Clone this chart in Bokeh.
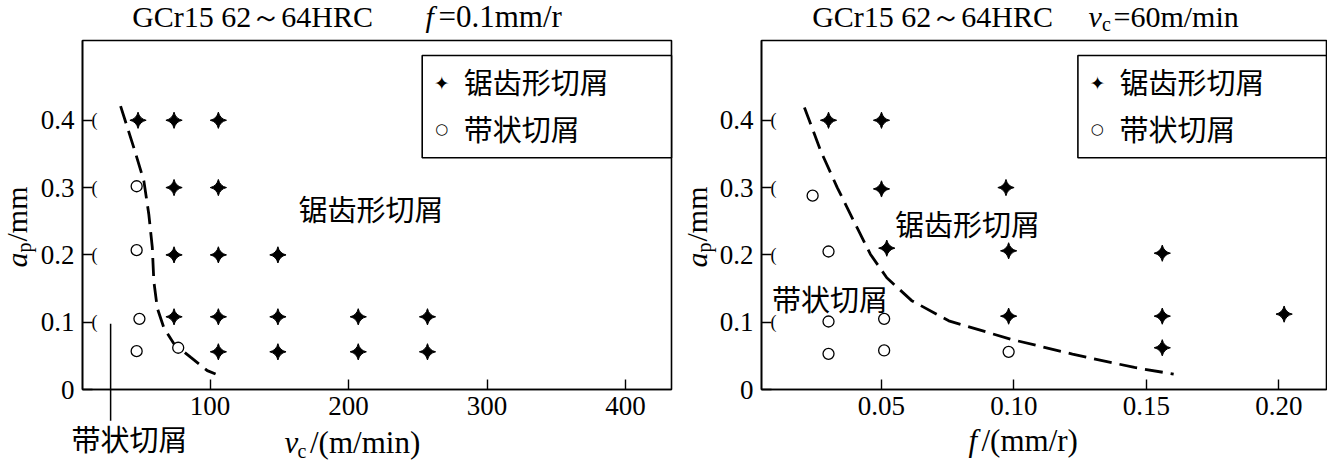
import numpy as np
from bokeh.plotting import figure
from bokeh.models import (Range1d, FixedTicker, Label, BoxAnnotation, PrintfTickFormatter)
from bokeh.layouts import row
from bokeh.embed import file_html
from bokeh.resources import INLINE
from bokeh.core.properties import value

# ---------------- data ----------------
# left panel: a_p vs v_c  (f = 0.1 mm/r)
left_saw_v = [48, 74, 106, 74, 106, 74, 106, 149, 74, 106, 149, 207, 257, 106, 149, 207, 257]
left_saw_ap = [0.40, 0.40, 0.40, 0.30, 0.30, 0.20, 0.20, 0.20, 0.108, 0.108, 0.108, 0.108, 0.108,
               0.056, 0.056, 0.056, 0.056]
left_band_v = [47, 47, 49, 47, 77]
left_band_ap = [0.302, 0.207, 0.105, 0.057, 0.062]
left_curve_v = [35.4, 45.0, 52.2, 55.8, 58.3, 59.4, 61.9, 66.6, 73.9, 85.9, 98.0, 104.0]
left_curve_ap = [0.421, 0.359, 0.310, 0.260, 0.211, 0.161, 0.121, 0.092, 0.068, 0.048, 0.028, 0.023]
left_pointer_v = [28.2, 28.2]
left_pointer_ap = [0.0975, -0.0465]

# right panel: a_p vs f  (v_c = 60 m/min)
right_saw_f = [0.030, 0.050, 0.050, 0.052, 0.097, 0.098, 0.098, 0.156, 0.156, 0.156, 0.202]
right_saw_ap = [0.400, 0.400, 0.298, 0.210, 0.300, 0.206, 0.109, 0.2025, 0.109, 0.062, 0.112]
right_band_f = [0.024, 0.030, 0.030, 0.030, 0.051, 0.051, 0.098]
right_band_ap = [0.288, 0.205, 0.101, 0.053, 0.105, 0.058, 0.056]
right_curve_f = [0.0209, 0.0271, 0.0333, 0.0395, 0.0458, 0.0520, 0.0614, 0.0754, 0.0987, 0.1221, 0.1455, 0.1603]
right_curve_ap = [0.419, 0.354, 0.300, 0.2505, 0.201, 0.166, 0.132, 0.102, 0.0748, 0.0526, 0.0327, 0.0229]

y_ticks = [0, 0.1, 0.2, 0.3, 0.4]
left_x_ticks = [100, 200, 300, 400]
right_x_ticks = [0.05, 0.10, 0.15, 0.20]

# axis extents of the boxed plot areas
left_x_bounds = (7.9, 433.2)
right_x_bounds = (0.0047, 0.218)
y_bounds = (0.0, 0.5185)

label_saw = "锯齿形切屑"
label_band = "带状切屑"

SERIF = "Liberation Serif"
CJK = "Noto Sans CJK SC"
SYM = "DejaVu Sans"

H = 463
BOX_TOP = 40       # pixel rows of the boxed area
BOX_BOTTOM = 389


def make_fig(width, box_left, box_right, xb, xticks, xfmt):
    # the frame covers the whole canvas; axes are pinned at the box edges
    kx = (box_right - box_left) / (xb[1] - xb[0])
    ky = (BOX_BOTTOM - BOX_TOP) / (y_bounds[1] - y_bounds[0])
    xr = Range1d(xb[0] - box_left / kx, xb[0] + (width - box_left) / kx)
    yr = Range1d(y_bounds[0] - (H - BOX_BOTTOM) / ky, y_bounds[0] + BOX_BOTTOM / ky)
    p = figure(width=width, height=H, min_border=0, x_range=xr, y_range=yr,
               toolbar_location=None, output_backend="svg", title=None)
    p.background_fill_color = "white"
    p.border_fill_color = "white"
    p.outline_line_color = None
    p.xgrid.grid_line_color = None
    p.ygrid.grid_line_color = None
    for ax in (p.xaxis[0], p.yaxis[0]):
        ax.axis_line_color = "black"
        ax.axis_line_width = 1.6
        ax.major_tick_line_color = "black"
        ax.major_tick_line_width = 1.4
        ax.major_tick_in = 10
        ax.major_tick_out = 0
        ax.minor_tick_line_color = None
        ax.major_label_text_font = SERIF
        ax.major_label_text_font_size = "27px"
        ax.major_label_text_color = "black"
    p.xaxis.fixed_location = y_bounds[0]
    p.xaxis.bounds = xb
    p.yaxis.fixed_location = xb[0]
    p.yaxis.bounds = y_bounds
    p.xaxis.ticker = FixedTicker(ticks=xticks)
    p.xaxis.formatter = PrintfTickFormatter(format=xfmt)
    p.xaxis.major_label_standoff = 7
    p.yaxis.ticker = FixedTicker(ticks=y_ticks)
    p.yaxis.formatter = PrintfTickFormatter(format="%.1f")
    p.yaxis.major_label_overrides = {0: "0"}
    p.yaxis.major_label_standoff = 8
    # top and right edges of the box
    p.add_layout(BoxAnnotation(left=xb[0], right=xb[1], bottom=y_bounds[0], top=y_bounds[1],
                               fill_alpha=0, line_color="black", line_alpha=1.0, line_width=1.6))
    return p


def add_label(p, cx, cy, text, size, font=SERIF, style="normal", align="left",
              baseline="middle", angle=0.0):
    # cx, cy: pixel position inside this figure, from its top-left corner
    p.add_layout(Label(x=cx, y=H - cy, x_units="screen", y_units="screen",
                       text=text, text_font=font, text_font_size=f"{size}px",
                       text_font_style=style, text_align=align, text_baseline=baseline,
                       angle=angle, text_color="black"))


def draw_panel(p, xb, saw_x, saw_y, band_x, band_y, cx, cy, leg_left):
    p.line(cx, cy, line_color="black", line_width=2.8, line_dash="18 8")
    p.scatter(saw_x, saw_y, marker="square_pin", angle=np.pi / 4, size=11.5,
              fill_color="black", line_color="black", line_width=1)
    p.scatter(band_x, band_y, marker="circle", size=11, fill_color="white",
              line_color="black", line_width=1.3)
    # small "(" marks next to the y ticks
    p.text(x=[xb[0]] * 4, y=y_ticks[1:], text=["("] * 4, x_offset=9,
           text_font=value(SERIF), text_font_size="18px", text_baseline="middle",
           text_align="left", text_color="black")
    # legend box
    p.add_layout(BoxAnnotation(left=leg_left, left_units="screen", right=xb[1], right_units="data",
                               top=H - 55, top_units="screen", bottom=H - 157.3, bottom_units="screen",
                               fill_color="white", fill_alpha=1.0, line_color="black",
                               line_alpha=1.0, line_width=1.6))
    add_label(p, leg_left + 19.5, 82, "✦", 19, font=SYM, align="center")
    add_label(p, leg_left + 19.5, 128, "○", 15, font=SYM, align="center")
    add_label(p, leg_left + 41.5, 80, label_saw, 29, font=CJK)
    add_label(p, leg_left + 41.5, 127, label_band, 29, font=CJK)
    # y axis label  a_p / mm  (rotated, reads bottom to top)
    add_label(p, 16, 267, "a", 30, style="italic", angle=np.pi / 2)
    add_label(p, 23, 252, "p", 20, angle=np.pi / 2)
    add_label(p, 16, 241, "/mm", 30, angle=np.pi / 2)


# ---------------- left panel ----------------
p1 = make_fig(680, 82, 671, left_x_bounds, left_x_ticks, "%d")
draw_panel(p1, left_x_bounds, left_saw_v, left_saw_ap, left_band_v, left_band_ap,
           left_curve_v, left_curve_ap, 421.7)
p1.line(left_pointer_v, left_pointer_ap, line_color="black", line_width=1.5)
p1.add_layout(Label(x=163.9, y=0.27, text=label_saw, text_font=CJK,
                    text_font_size="29px", text_baseline="middle", text_color="black"))
add_label(p1, 71, 437, label_band, 29, font=CJK)
add_label(p1, 131.7, 16, "GCr15 62～64HRC", 30)
add_label(p1, 425, 16, "f", 30, style="italic")
add_label(p1, 438, 16, "=0.1mm/r", 31)
add_label(p1, 284, 441.5, "v", 31, style="italic")
add_label(p1, 297, 450, "c", 20)
add_label(p1, 309.5, 441.5, "/(m/min)", 31)

# ---------------- right panel ----------------
OX = 680
p2 = make_fig(647, 81, 646, right_x_bounds, right_x_ticks, "%.2f")
draw_panel(p2, right_x_bounds, right_saw_f, right_saw_ap, right_band_f, right_band_ap,
           right_curve_f, right_curve_ap, 1077.4 - OX)
p2.add_layout(Label(x=0.0551, y=0.248, text=label_saw, text_font=CJK,
                    text_font_size="29px", text_baseline="middle", text_color="black"))
p2.add_layout(Label(x=0.0087, y=0.136, text=label_band, text_font=CJK,
                    text_font_size="29px", text_baseline="middle", text_color="black"))
add_label(p2, 811.7 - OX, 16, "GCr15 62～64HRC", 30)
add_label(p2, 1088 - OX, 16, "v", 30, style="italic")
add_label(p2, 1101.5 - OX, 23, "c", 20)
add_label(p2, 1113 - OX, 16, "=60m/min", 30)
add_label(p2, 968 - OX, 439.5, "f", 31, style="italic")
add_label(p2, 981 - OX, 439.5, "/(mm/r)", 31)

layout = row(p1, p2)
open("out.html", "w").write(file_html(layout, INLINE))
